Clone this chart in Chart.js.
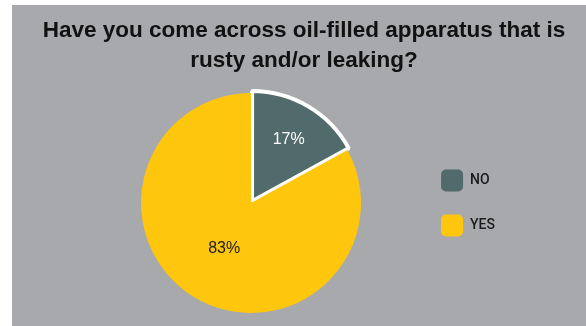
<!DOCTYPE html>
<html>
<head>
<meta charset="utf-8">
<script src="https://cdn.jsdelivr.net/npm/chart.js@4.4.1/dist/chart.umd.min.js"></script>
<style>
  html, body { margin: 0; padding: 0; background: #fff; }
  #wrap { width: 586px; height: 326px; }
</style>
</head>
<body>
<div id="wrap"><canvas id="pieChart" width="586" height="326"></canvas></div>
<script>
const answers = ["NO", "YES"];
const shares = [17, 83];
const sliceColors = ["#516a6b", "#fec60d"];
const titleLines = ["Have you come across oil-filled apparatus that is", "rusty and/or leaking?"];

// grey panel behind the chart, leaving a white strip on the left and top
const panelBackground = {
  id: "panelBackground",
  beforeDraw(chart) {
    const c = chart.ctx;
    c.save();
    c.fillStyle = "#fff";
    c.fillRect(0, 0, chart.width, chart.height);
    c.fillStyle = "#a8a9ac";
    c.fillRect(12, 5, chart.width - 12, chart.height - 5);
    c.restore();
  },
};

// empty layout boxes so the pie and legend sit inward without squeezing the title
function makeSpacer(position, size, weight) {
  return {
    position: position,
    weight: weight,
    fullSize: false,
    options: {},
    width: 0,
    height: 0,
    isHorizontal() {
      return false;
    },
    update(maxWidth, maxHeight) {
      this.width = size;
      this.height = maxHeight;
    },
    draw() {},
  };
}

const sideSpace = {
  id: "sideSpace",
  beforeInit(chart) {
    Chart.layouts.addBox(chart, makeSpacer("left", 62, 2000));
    Chart.layouts.addBox(chart, makeSpacer("right", 81, 2000));
  },
};

// percentage text inside each slice
const sliceLabels = {
  id: "sliceLabels",
  afterDatasetsDraw(chart) {
    const c = chart.ctx;
    const meta = chart.getDatasetMeta(0);
    const reach = [0.6, 0.48];
    const textColors = ["#ffffff", "#1b1b1b"];
    c.save();
    c.font = "16px 'Liberation Sans', Arial, sans-serif";
    c.textAlign = "center";
    c.textBaseline = "middle";
    meta.data.forEach((arc, i) => {
      const p = arc.getProps(["x", "y", "startAngle", "endAngle", "outerRadius"], true);
      const mid = (p.startAngle + p.endAngle) / 2;
      const off = arc.options.offset || 0;
      const d = p.outerRadius * reach[i] + off;
      c.fillStyle = textColors[i];
      c.fillText(shares[i] + "%", p.x + Math.cos(mid) * d, p.y + Math.sin(mid) * d);
    });
    c.restore();
  },
};

new Chart(document.getElementById("pieChart"), {
  type: "pie",
  data: {
    labels: answers,
    datasets: [
      {
        data: shares,
        backgroundColor: sliceColors,
        borderColor: "#ffffff",
        borderWidth: [4, 0],
        offset: [8, 0],
      },
    ],
  },
  options: {
    responsive: false,
    animation: false,
    events: [],
    layout: {
      padding: { top: 5, left: 22, right: 0, bottom: 7 },
    },
    plugins: {
      title: {
        display: true,
        text: titleLines,
        color: "#111",
        font: { family: "'Liberation Sans', Arial, sans-serif", size: 22.5, weight: "bold", lineHeight: "30px" },
        padding: { top: 11, bottom: 11 },
      },
      legend: {
        position: "right",
        fullSize: false,
        labels: {
          boxWidth: 22,
          boxHeight: 22,
          useBorderRadius: true,
          borderRadius: 5,
          padding: 23,
          color: "#1b1b1b",
          font: { family: "Roboto", size: 14, weight: "500" },
          generateLabels(chart) {
            const items = Chart.overrides.pie.plugins.legend.labels.generateLabels(chart);
            items.forEach((item) => {
              item.lineWidth = 0;
              item.strokeStyle = "rgba(0,0,0,0)";
            });
            return items;
          },
        },
      },
      tooltip: { enabled: false },
    },
  },
  plugins: [panelBackground, sideSpace, sliceLabels],
});
</script>
</body>
</html>
